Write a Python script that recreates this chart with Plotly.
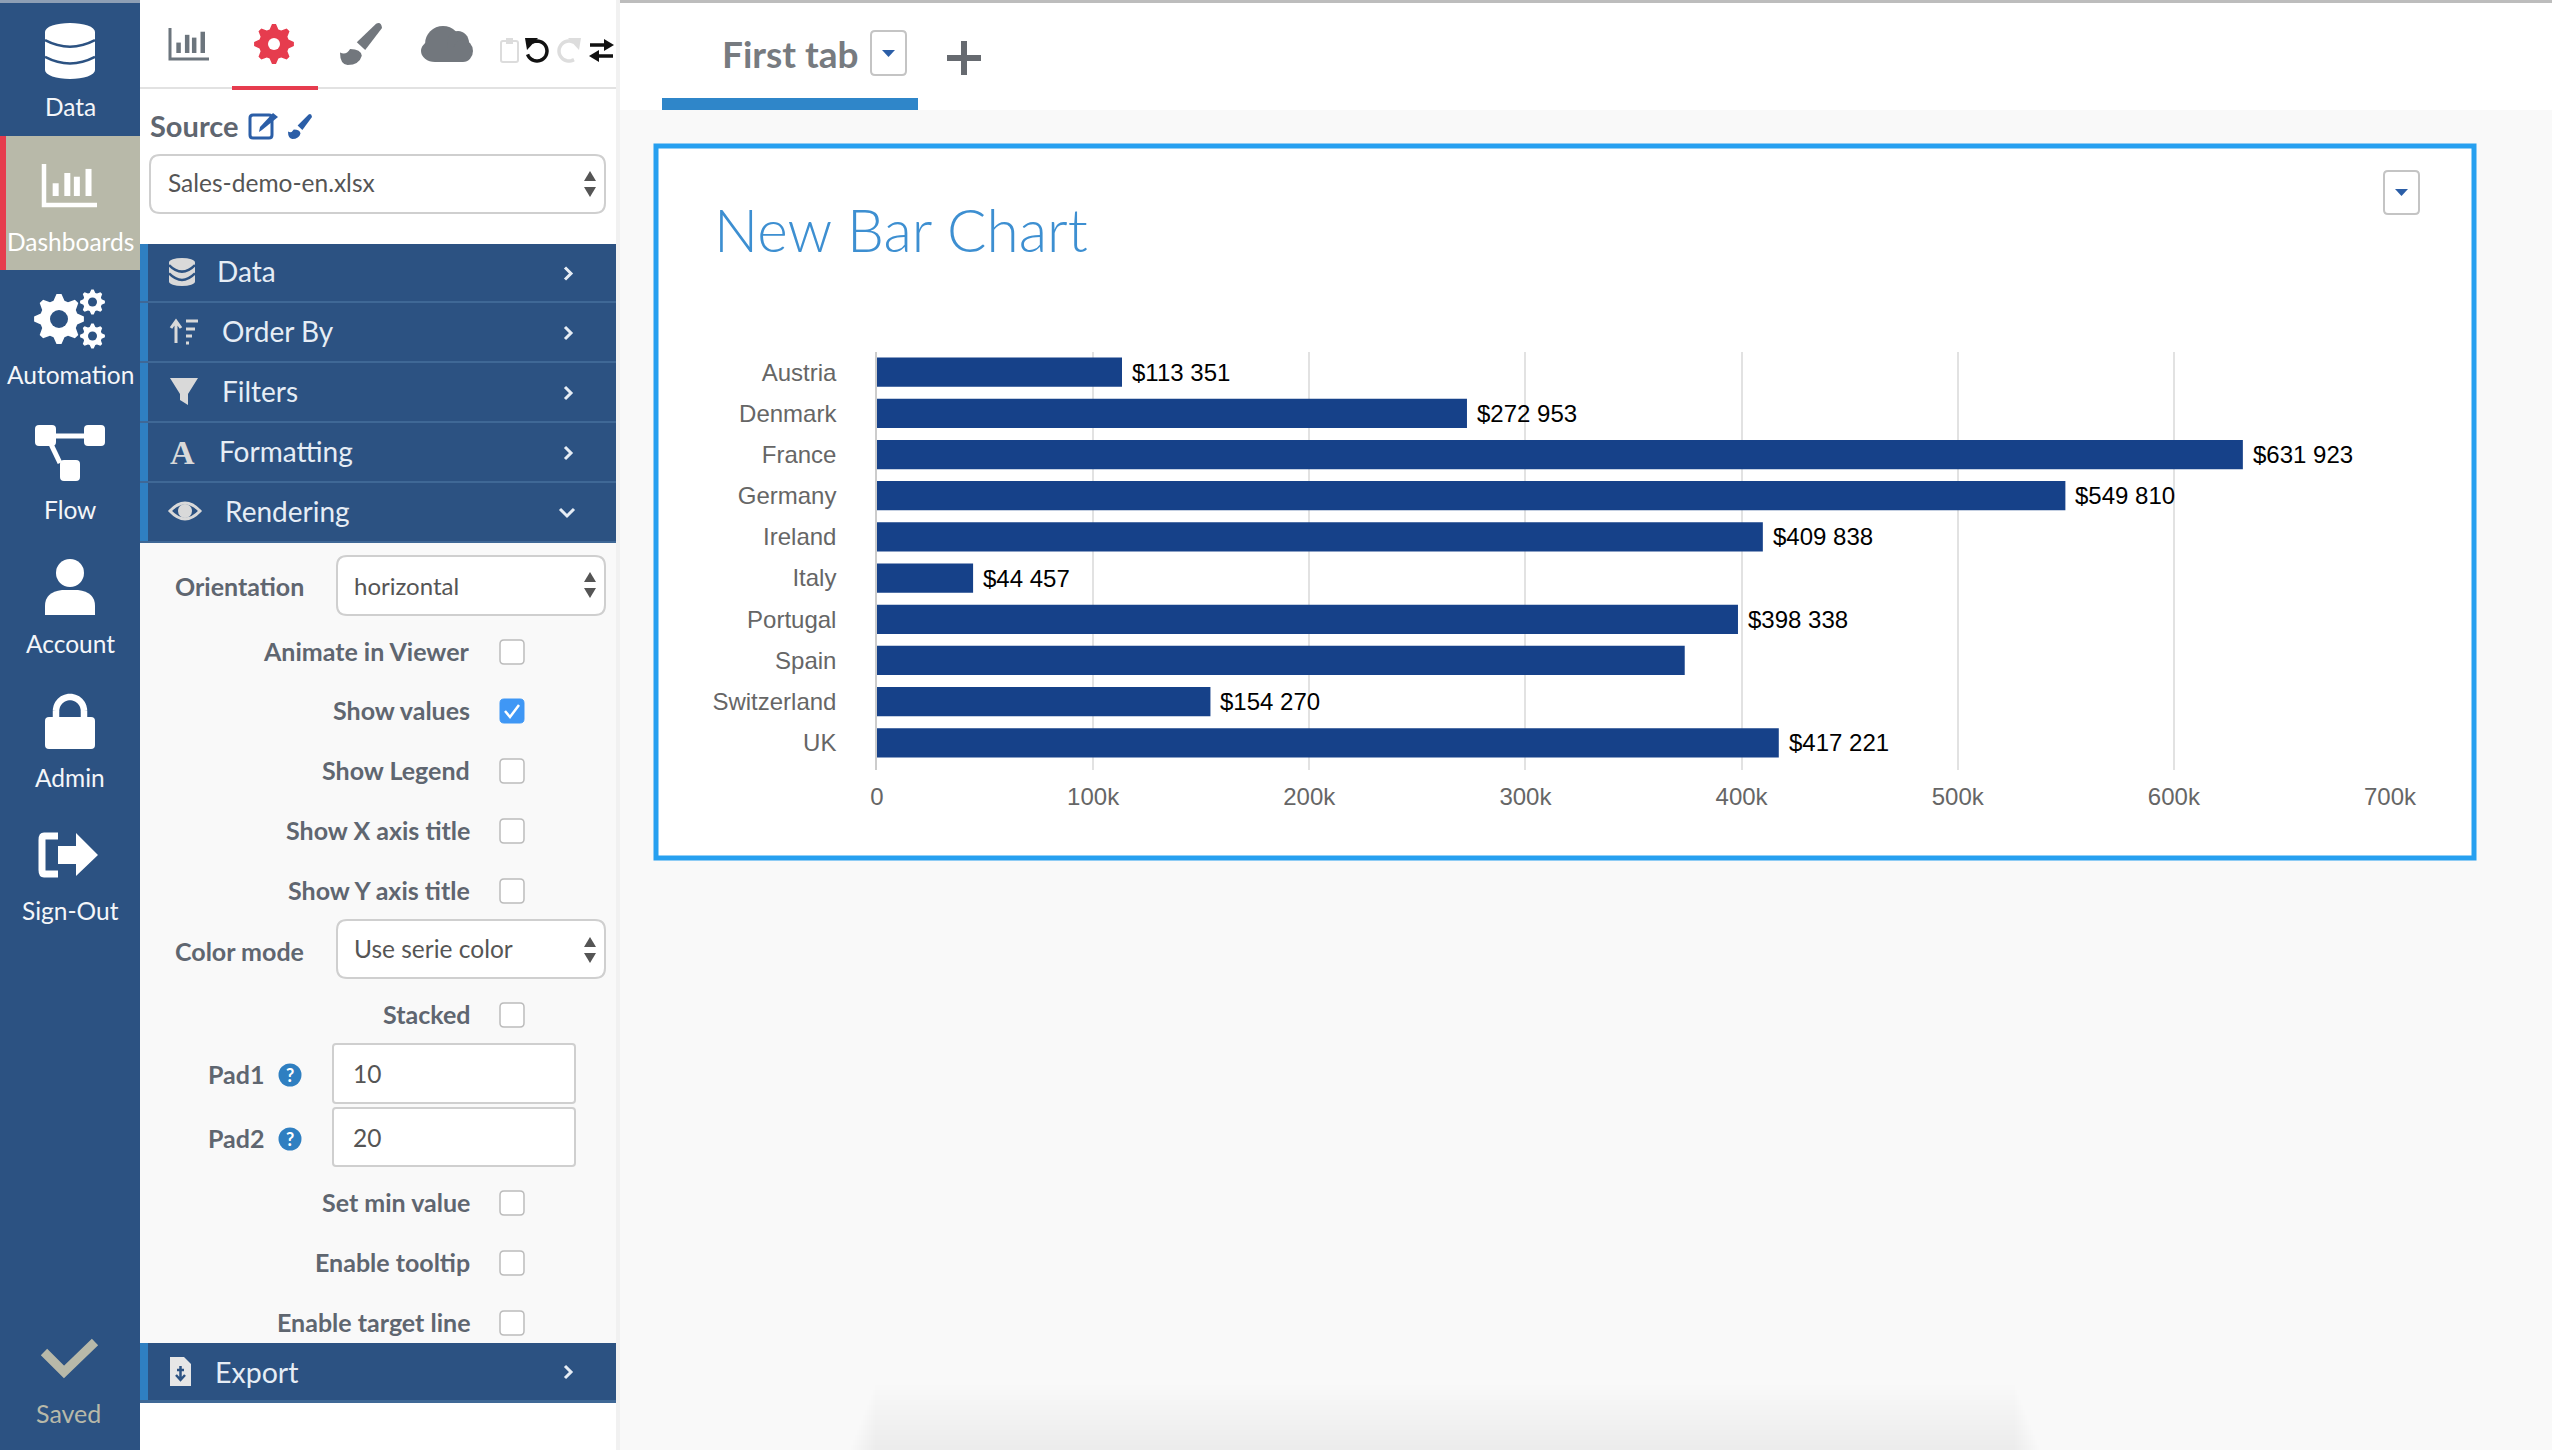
import math
import re
import plotly.graph_objects as go

# ---- chart data ----
countries = ["Austria", "Denmark", "France", "Germany", "Ireland", "Italy",
             "Portugal", "Spain", "Switzerland", "UK"]
sales = [113351, 272953, 631923, 549810, 409838, 44457, 398338, 373700, 154270, 417221]
value_labels = ["$113 351", "$272 953", "$631 923", "$549 810", "$409 838", "$44 457",
                "$398 338", "", "$154 270", "$417 221"]
tick_values = [0, 100000, 200000, 300000, 400000, 500000, 600000, 700000]
tick_labels = ["0", "100k", "200k", "300k", "400k", "500k", "600k", "700k"]
chart_title = "New Bar Chart"
nav_items = ["Data", "Dashboards", "Automation", "Flow", "Account", "Admin", "Sign-Out"]
menu_items = ["Data", "Order By", "Filters", "Formatting", "Rendering"]
check_labels = ["Animate in Viewer", "Show values", "Show Legend", "Show X axis title",
                "Show Y axis title", "Stacked", "Set min value", "Enable tooltip",
                "Enable target line"]

W, H = 2552, 1450
NAVY = "#2c5282"
ACCENT = "#2f7fc1"
SAND = "#b8b9a9"
RED = "#e63c4e"
GREY = "#5f6670"
BORDER = "#cfcfcf"
UI = "Lato"
CHART = "Liberation Sans"

shapes, notes = [], []


def fx(p):
    return p / W


def fy(p):
    return 1 - p / H


def conv(d):
    tokens = re.findall(r"[MLCQZ]|-?\d+\.?\d*", d)
    out, is_x = [], True
    for t in tokens:
        if t in "MLCQZ":
            out.append(t)
            is_x = True
        else:
            out.append(f"{fx(float(t)) if is_x else fy(float(t)):.6f}")
            is_x = not is_x
    res, i = "", 0
    while i < len(out):
        if out[i] in "MLCQZ":
            res += out[i]
            i += 1
        else:
            res += out[i] + "," + out[i + 1] + " "
            i += 2
    return res


def path(d, fill=None, line=None, w=0):
    shapes.append(dict(type="path", xref="paper", yref="paper", layer="below", path=conv(d),
                       fillcolor=fill or "rgba(0,0,0,0)",
                       line=dict(color=line or "rgba(0,0,0,0)", width=w)))


def rect(x0, y0, x1, y1, fill=None, line=None, w=0):
    shapes.append(dict(type="rect", xref="paper", yref="paper", layer="below",
                       x0=fx(x0), x1=fx(x1), y0=fy(y1), y1=fy(y0),
                       fillcolor=fill or "rgba(0,0,0,0)",
                       line=dict(color=line or "rgba(0,0,0,0)", width=w)))


def oval(cx, cy, rx, ry, fill=None, line=None, w=0):
    shapes.append(dict(type="circle", xref="paper", yref="paper", layer="below",
                       x0=fx(cx - rx), x1=fx(cx + rx), y0=fy(cy + ry), y1=fy(cy - ry),
                       fillcolor=fill or "rgba(0,0,0,0)",
                       line=dict(color=line or "rgba(0,0,0,0)", width=w)))


def rrect(x0, y0, x1, y1, r, fill=None, line=None, w=0):
    path(f"M{x0 + r} {y0} L{x1 - r} {y0} Q{x1} {y0} {x1} {y0 + r} L{x1} {y1 - r} Q{x1} {y1} {x1 - r} {y1} "
         f"L{x0 + r} {y1} Q{x0} {y1} {x0} {y1 - r} L{x0} {y0 + r} Q{x0} {y0} {x0 + r} {y0} Z", fill, line, w)


def text(x, y, s, size=24, color="#555555", anchor="left", weight=400, family=UI):
    notes.append(dict(xref="paper", yref="paper", x=fx(x), y=fy(y), text=s, showarrow=False,
                      xanchor=anchor, yanchor="middle", align=anchor,
                      font=dict(family=family, size=size, color=color, weight=weight)))


def gear(cx, cy, r, teeth, fill, hole, hr=0.36):
    pts = []
    n = teeth * 4
    for i in range(n):
        a = 2 * math.pi * (i - 0.5) / n
        rr = r if i % 4 in (0, 1) else r * 0.76
        pts.append((cx + rr * math.cos(a), cy + rr * math.sin(a)))
    path("M" + " L".join(f"{a:.1f} {b:.1f}" for a, b in pts) + " Z", fill)
    oval(cx, cy, r * hr, r * hr, hole)


def db(cx, top, bottom, hw, fill, gap):
    h = bottom - top
    rr = h * 0.16
    rect(cx - hw, top + rr, cx + hw, bottom - rr, fill)
    oval(cx, top + rr, hw, rr, fill)
    oval(cx, bottom - rr, hw, rr, fill)
    for t in (0.36, 0.66):
        yy = top + h * t
        path(f"M{cx - hw} {yy - 3} Q{cx} {yy + 10} {cx + hw} {yy - 3}", None, gap, 2.5)


def bars_icon(x0, y0, x1, y1, color, w, bw):
    path(f"M{x0} {y0} L{x0} {y1} L{x1} {y1}", None, color, w)
    span = x1 - x0
    for frac, tp in ((0.22, 0.47), (0.44, 0.22), (0.62, 0.31), (0.84, 0.12)):
        xx = x0 + span * frac
        path(f"M{xx} {y0 + (y1 - y0) * tp} L{xx} {y1 - w * 2}", None, color, bw)


def brush(x0, y0, x1, y1, fill):
    dx, dy = x1 - x0, y1 - y0

    def p(u, v):
        return f"{x0 + dx * u:.1f} {y0 + dy * v:.1f}"

    path(f"M{p(.86, .02)} Q{p(.98, -.04)} {p(1, .12)} L{p(.60, .64)} L{p(.40, .46)} Z", fill)
    path(f"M{p(.24, .62)} Q{p(.5, .62)} {p(.52, .78)} Q{p(.46, 1)} {p(.18, 1)} "
         f"Q{p(0, .98)} {p(0, .7)} Q{p(.14, .78)} {p(.24, .62)} Z", fill)


def arc(cx, cy, r, a0, a1, color, w, steps=28):
    pts = []
    for i in range(steps + 1):
        a = math.radians(a0 + (a1 - a0) * i / steps)
        pts.append((cx + r * math.cos(a), cy + r * math.sin(a)))
    path("M" + " L".join(f"{a:.1f} {b:.1f}" for a, b in pts), None, color, w)


def chevron_right(cx, cy, color="#e6edf5"):
    path(f"M{cx - 3} {cy - 6} L{cx + 3} {cy} L{cx - 3} {cy + 6}", None, color, 3)


def updown(cx, cy, color="#555555"):
    path(f"M{cx - 6} {cy - 3} L{cx + 6} {cy - 3} L{cx} {cy - 13} Z", color)
    path(f"M{cx - 6} {cy + 3} L{cx + 6} {cy + 3} L{cx} {cy + 13} Z", color)


# ---- page background and main panels ----
rect(0, 0, W, H, "#f9f9f9")
rect(0, 0, W, 110, "#ffffff")
rect(0, 0, W, 3, "#bdbdbd")
for i in range(13):
    rect(875 - i * 2, 1385 + i * 5, 2015 + i * 2, 1450, "rgba(0,0,0,0.0045)")
rect(140, 0, 616, H, "#ffffff")
rect(616, 0, 620, H, "#f1f1f1")
rect(140, 543, 616, 1343, "#f9f9f9")
rect(0, 0, 140, H, NAVY)
rect(0, 0, 140, 3, "#8e9fb5")

# top tab strip
rect(662, 98, 918, 110, "#2f86c9")
text(720, 53, "First tab", 37, "#777b80", weight=700)
rrect(871, 31, 906, 75, 4, "#ffffff", "#c4c4c4", 2)
path("M882 50 L895 50 L888.5 57 Z", "#2b5ea7")
rect(947, 55, 981, 61, "#666a70")
rect(961, 41, 967, 75, "#666a70")

# chart card
rect(656, 146, 2474, 858, "#ffffff", "#27a0f0", 5)
rrect(2384, 171, 2419, 214, 4, "#ffffff", "#c4c4c4", 2)
path("M2395 189 L2408 189 L2401.5 196 Z", "#2b5ea7")
text(712, 229, chart_title, 58.5, "#3d8fd1", weight=300)

# left navigation
rect(0, 136, 140, 270, SAND)
rect(0, 136, 6, 270, RED)
db(70, 23, 79, 25, "#ffffff", NAVY)
bars_icon(44, 164, 97, 205, "#ffffff", 4.5, 6)
gear(59, 319, 25, 8, "#ffffff", NAVY)
gear(92.5, 302, 12.5, 8, "#ffffff", NAVY)
gear(92.5, 336, 12.5, 8, "#ffffff", NAVY)
rrect(35, 425, 56, 446, 4, "#ffffff")
rrect(84, 425, 105, 446, 4, "#ffffff")
rrect(60, 460, 80, 481, 4, "#ffffff")
path("M50 436 L90 436", None, "#ffffff", 5)
path("M49 440 L60 463", None, "#ffffff", 5)
oval(70, 573, 14, 14, "#ffffff")
path("M45 615 L45 606 Q45 592 62 590 L78 590 Q95 592 95 606 L95 615 Z", "#ffffff")
rrect(45, 717, 95, 749, 4, "#ffffff")
arc(70, 711, 14, 180, 360, "#ffffff", 6.5)
path("M56 711 L56 720 M84 711 L84 720", None, "#ffffff", 6.5)
path("M58 836 L44 836 Q42 836 42 840 L42 870 Q42 874 44 874 L58 874", None, "#ffffff", 7)
path("M58 846 L76 846 L76 833 L98 855 L76 876 L76 864 L58 864 Z", "#ffffff")
path("M44 1352 L64 1372 L95 1342", None, SAND, 9)

nav_y = [107, 241, 375, 509, 643, 777, 911]
for label, yy in zip(nav_items, nav_y):
    text(70, yy, label, 24.5, "#f4f6f9" if label != "Dashboards" else "#ffffff", "center")
text(68, 1413, "Saved", 25, SAND, "center")

# top toolbar of the side panel
bars_icon(170, 28, 209, 59, "#6c757d", 3, 4.5)
gear(274, 44, 20, 8, RED, "#ffffff", 0.3)
brush(340, 23, 382, 65, "#72777d")
oval(435, 51, 14, 11, "#72777d")
oval(443, 44, 18, 18, "#72777d")
oval(458, 43, 11, 12, "#72777d")
oval(463, 51, 10, 11, "#72777d")
rect(435, 48, 463, 62, "#72777d")
rrect(501, 41, 518, 62, 2, None, "#dcdcdc", 2)
rect(506, 38, 513, 44, "#dcdcdc")
arc(537, 51, 10, -120, 160, "#111111", 3.5)
path("M525 38 L538 38 L527 50 Z", "#111111")
arc(569, 51, 10, 60, 300, "#dddddd", 3.5)
path("M581 38 L568 38 L579 50 Z", "#dddddd")
path("M590 45 L606 45", None, "#111111", 3.5)
path("M597 56 L613 56", None, "#111111", 3.5)
path("M604 39 L614 45 L604 51 Z", "#111111")
path("M599 50 L589 56 L599 62 Z", "#111111")
rect(140, 87, 616, 89, "#e2e2e2")
rect(232, 86, 318, 90, RED)

# source block
text(148, 126, "Source", 29, GREY, weight=700)
rrect(250, 115, 272, 138, 3, None, "#2b5ea7", 3)
path("M262 130 L259 132 L260 127 L273 113 L278 117 Z", "#2b5ea7")
brush(288, 114, 312, 139, "#2b5ea7")
rrect(150, 155, 605, 213, 10, "#ffffff", BORDER, 2)
text(166, 183, "Sales-demo-en.xlsx", 24.5, "#555555")
updown(590, 184)

# accordion rows
menu_y = [(244, 303), (303, 363), (363, 423), (423, 483), (483, 543)]
menu_x = [215, 220, 220, 217, 223]
for label, (a, b), xx in zip(menu_items, menu_y, menu_x):
    rect(140, a, 616, b, NAVY)
    rect(140, a, 148, b, ACCENT)
    rect(140, b - 2, 616, b, "#3f6896")
    text(xx, (a + b) / 2 - 2, label, 28, "#e6edf5")
    if label == "Rendering":
        path(f"M560 {(a + b) / 2 - 4} L567 {(a + b) / 2 + 3} L574 {(a + b) / 2 - 4}", None, "#e6edf5", 3)
    else:
        chevron_right(568, (a + b) / 2)
db(182, 258, 286, 13, "#d9d9d9", NAVY)
path("M176 322 L176 343 M171 328 L176 321 L181 328", None, "#d9d9d9", 3)
path("M186 321 L198 321 M186 329 L195 329 M186 336 L192 336 M186 343 L189 343", None, "#d9d9d9", 3)
path("M170 378 L198 378 L188 394 L188 405 L180 400 L180 394 Z", "#d9d9d9")
text(182, 452, "A", 34, "#d9d9d9", "center", 700, "Liberation Serif")
path("M170 511 Q185 495 200 511 Q185 527 170 511 Z", None, "#d9d9d9", 3)
oval(185, 511, 7, 7, "#d9d9d9")

# form rows
check_y = [652, 711, 771, 831, 891, 1015, 1203, 1263, 1323]
for label, yy in zip(check_labels, check_y):
    text(472, yy - 1, label, 25, GREY, "right", 700)
    if label == "Show values":
        rrect(500, yy - 12, 524, yy + 12, 4, "#3f97f5", "#3f97f5", 1)
        path(f"M505 {yy} L510 {yy + 6} L519 {yy - 6}", None, "#ffffff", 2.5)
    else:
        rrect(500, yy - 12, 524, yy + 12, 4, "#ffffff", "#bcbcbc", 1.5)

text(306, 586, "Orientation", 25, GREY, "right", 700)
rrect(337, 556, 605, 615, 10, "#ffffff", BORDER, 2)
text(352, 585, "horizontal", 24, "#555555")
updown(590, 585)
text(306, 951, "Color mode", 25, GREY, "right", 700)
rrect(337, 920, 605, 978, 10, "#ffffff", BORDER, 2)
text(352, 949, "Use serie color", 24.5, "#555555")
updown(590, 950)

for label, val, yy, a, b in (("Pad1", "10", 1075, 1044, 1103), ("Pad2", "20", 1139, 1108, 1166)):
    text(206, yy - 1, label, 25, GREY, "left", 700)
    oval(290, yy, 11.5, 11.5, "#2f7fc1")
    text(290, yy, "?", 18, "#ffffff", "center", 700)
    rrect(333, a, 575, b, 3, "#ffffff", BORDER, 2)
    text(351, yy - 2, val, 24.5, "#555555")

# export row
rect(140, 1343, 616, 1402, NAVY)
rect(140, 1343, 148, 1402, ACCENT)
rect(140, 1400, 616, 1403, "#3f6896")
path("M170 1357 L184 1357 L191 1364 L191 1386 L170 1386 Z", "#e6e6e6")
path("M177 1370 L184 1370 M180.5 1366 L180.5 1378 M176 1375 L180.5 1380 L185 1375", None, NAVY, 2.5)
text(213, 1372, "Export", 28.5, "#e6edf5")
chevron_right(568, 1372)

# value labels sit beside each bar, placed through the chart's own axes
for country, value, label in zip(countries, sales, value_labels):
    if label:
        notes.append(dict(xref="x", yref="y", x=value, y=country, text=label, showarrow=False,
                          xanchor="left", yanchor="middle", xshift=8,
                          font=dict(family=CHART, size=24, color="#000000")))

# ---- the chart itself ----
fig = go.Figure(go.Bar(
    x=sales, y=countries, orientation="h",
    marker=dict(color="#164189", line=dict(width=0)),
    hoverinfo="skip",
))
fig.update_layout(
    width=W, height=H, margin=dict(l=0, r=0, t=0, b=0), autosize=False,
    paper_bgcolor="#f9f9f9", plot_bgcolor="rgba(0,0,0,0)", showlegend=False,
    bargap=0.29, shapes=shapes, annotations=notes,
    font=dict(family=CHART),
    xaxis=dict(domain=[877 / W, 2390 / W], range=[0, 700000], tickvals=tick_values, ticktext=tick_labels,
               tickfont=dict(family=CHART, size=24, color="#666666"), showgrid=True,
               gridcolor="#e2e2e2", gridwidth=1.5, zeroline=False, showline=False, ticks="",
               ticklabelstandoff=10, automargin=False, fixedrange=True),
    yaxis=dict(domain=[1 - 770 / H, 1 - 352 / H], autorange=False, range=[9.66, -0.49], type="category",
               tickfont=dict(family=CHART, size=24, color="#666666"), showgrid=False, zeroline=False,
               showline=True, linecolor="#cccccc", linewidth=1.5, ticks="", ticklabelstandoff=34,
               automargin=False, fixedrange=True),
)

fig.write_html("out.html", config={"displayModeBar": False},
               post_script="document.body.style.margin='0';document.body.style.overflow='hidden';")
